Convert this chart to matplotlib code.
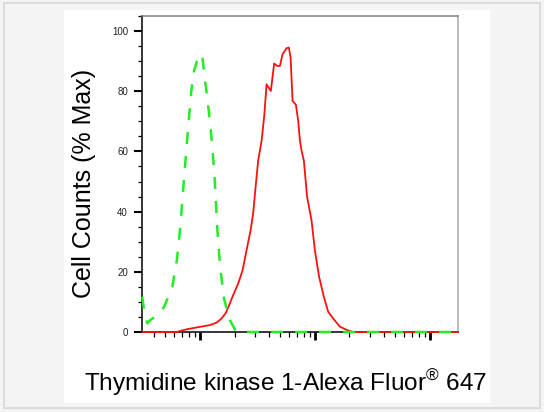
import numpy as np
import matplotlib
matplotlib.use("Agg")
import matplotlib.pyplot as plt
from matplotlib.patches import Rectangle
from matplotlib.ticker import LogLocator, MultipleLocator, NullFormatter

plt.rcParams['font.family'] = ['Liberation Sans', 'DejaVu Sans']

# stained sample (red), log10 of intensity vs % max
red_log = [0.499, 0.797, 0.884, 1.0, 1.087, 1.145, 1.189, 1.226, 1.261, 1.29,
           1.333, 1.371, 1.406, 1.441, 1.463, 1.487, 1.507, 1.537, 1.56, 1.58,
           1.617, 1.646, 1.672, 1.696, 1.719, 1.754, 1.774, 1.789, 1.806, 1.835,
           1.855, 1.87, 1.884, 1.904, 1.933, 1.971, 2.0, 2.037, 2.078, 2.116,
           2.159, 2.217, 2.276, 2.33, 3.245]
red_pct = [0, 0, 0.9, 1.7, 2.3, 3.1, 4.5, 6.4, 9.5, 12.3,
           16.1, 20.5, 27.2, 33.8, 39.3, 49.2, 57, 63.6, 72, 82.3,
           80.1, 89.2, 88.4, 88.4, 92.3, 94.3, 94.5, 91.2, 76.8, 75.5,
           70.2, 63.6, 60.3, 57, 44.8, 37.1, 27.2, 18.3, 11.7, 6.7,
           4.5, 1.8, 0.7, 0, 0]

# isotype control (green dashed)
green_log = [0.499, 0.515, 0.542, 0.57, 0.632, 0.69, 0.76, 0.80, 0.83, 0.86,
             0.885, 0.905, 0.925, 0.95, 0.975, 1.005, 1.02, 1.04, 1.07, 1.095,
             1.115, 1.13, 1.15, 1.175, 1.21, 1.26, 1.31, 1.34, 3.245]
green_pct = [11.7, 7, 2.9, 4.0, 5.6, 8.4, 15, 24, 35, 50,
             62, 71, 80, 87, 90, 92.3, 92, 85, 76, 67,
             58, 50, 35, 22, 11, 4, 0.5, 0, 0]

y_ticks = [0, 20, 40, 60, 80, 100]

fig = plt.figure(figsize=(5.44, 4.12), dpi=100)
fig.patch.set_facecolor('#f4f4f4')
W, H = 544.0, 412.0
# outer border and white panel, kept behind the axes
fig.patches.append(Rectangle((4 / W, 1 - 408 / H), 536 / W, 405 / H, transform=fig.transFigure,
                             facecolor='none', edgecolor='#d6d6d6', lw=1.2, zorder=-2))
fig.patches.append(Rectangle((64 / W, 1 - 403 / H), 426 / W, 393 / H, transform=fig.transFigure,
                             facecolor='white', edgecolor='none', zorder=-1))

ax = fig.add_axes([142.3 / W, 1 - 332 / H, (458 - 142.3) / W, (332 - 16) / H])
ax.set_facecolor('white')

ax.plot(np.power(10, red_log), red_pct, color='#ff1010', lw=1.3, zorder=4, clip_on=False)
ax.plot(np.power(10, green_log), green_pct, color='#22ee22', lw=1.8,
        linestyle=(0, (4.8, 4.8)), zorder=5, clip_on=False)

ax.set_xscale('log')
ax.set_xlim(10 ** 0.499, 10 ** 3.245)
ax.set_ylim(0, 105)

ax.xaxis.set_major_locator(LogLocator(base=10, numticks=10))
ax.xaxis.set_minor_locator(LogLocator(base=10, subs=np.arange(2, 10), numticks=20))
ax.xaxis.set_major_formatter(NullFormatter())
ax.xaxis.set_minor_formatter(NullFormatter())
ax.set_yticks(y_ticks)
ax.yaxis.set_minor_locator(MultipleLocator(5))

ax.tick_params(axis='x', which='major', direction='out', length=6, width=2.0, color='black')
ax.tick_params(axis='x', which='minor', direction='out', length=3.4, width=0.9, color='black')
ax.tick_params(axis='y', which='major', direction='out', length=5.8, width=1.5, color='black',
               labelsize=7, pad=4.5, labelcolor='#222222')
ax.tick_params(axis='y', which='minor', direction='out', length=2.9, width=0.9, color='black')

for side in ['left', 'bottom']:
    ax.spines[side].set_color('black')
    ax.spines[side].set_linewidth(1.1)
ax.spines['top'].set_color('#808080')
ax.spines['top'].set_linewidth(1.1)
ax.spines['right'].set_color('#aaaaaa')
ax.spines['right'].set_linewidth(1.1)

fig.text(84 / W, 1 - 183.5 / H, 'Cell Counts (% Max)', rotation=90, ha='center', va='center',
         fontsize=18, color='black')

fig.text(286 / W, 1 - 391 / H, 'Thymidine kinase 1-Alexa Fluor$^{\\mathregular{®}}$ 647',
         ha='center', va='baseline', fontsize=17.6, color='black')

fig.savefig('out.png', dpi=100, facecolor=fig.get_facecolor())
